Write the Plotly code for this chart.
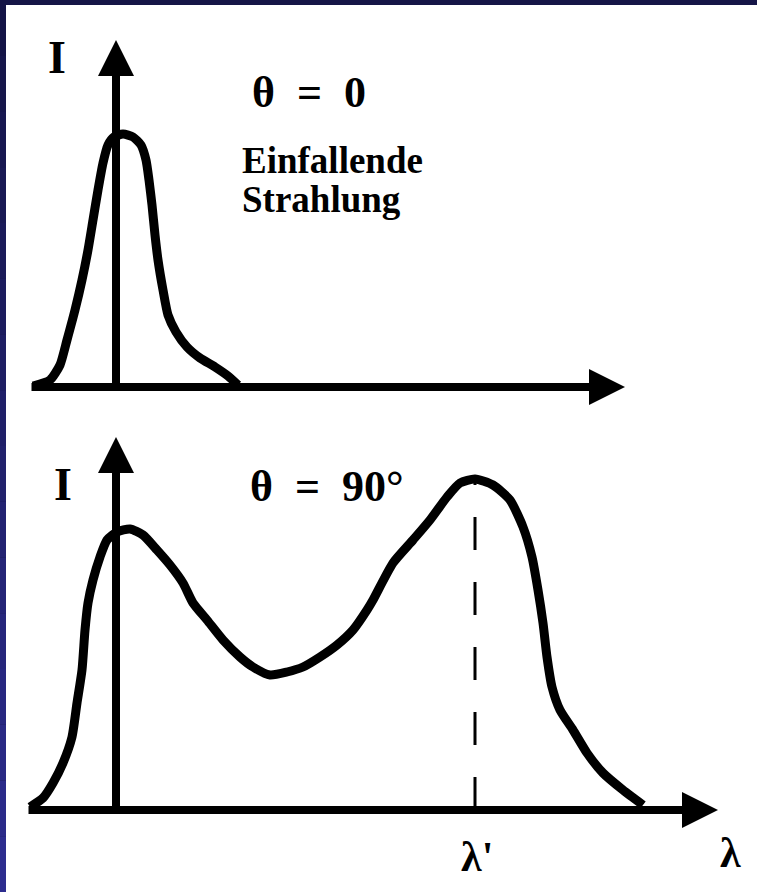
import plotly.graph_objects as go

# ---- data (arbitrary units: lambda along x, intensity I along y) ----
top_lam = [-1.66, -1.32, -1.12, -0.98, -0.82, -0.68, -0.56, -0.46, -0.36, -0.26, -0.16, -0.04,
           0.14, 0.34, 0.50, 0.60, 0.66, 0.72, 0.78, 0.84, 0.94, 1.04, 1.20, 1.42, 1.68, 1.98, 2.24, 2.44]
top_I = [0.04, 0.28, 0.88, 1.88, 3.08, 4.28, 5.48, 6.68, 7.88, 8.96, 9.68, 10.0,
         10.12, 10.0, 9.68, 9.08, 8.28, 7.28, 6.08, 5.08, 3.88, 2.88, 2.2, 1.6, 1.16, 0.8, 0.44, 0.08]

bot_lam = [-1.72, -1.46, -1.26, -1.06, -0.88, -0.78, -0.68, -0.62, -0.56, -0.46, -0.32, -0.18, 0.02,
           0.28, 0.54, 0.82, 1.08, 1.34, 1.54, 1.82, 2.14, 2.48, 2.74, 3.08, 3.42, 3.74, 4.08, 4.42,
           4.74, 5.02, 5.14, 5.54, 5.94, 6.28, 6.62, 6.88, 7.18, 7.54, 7.88, 8.14, 8.32, 8.44, 8.54,
           8.62, 8.72, 8.88, 9.14, 9.42, 9.74, 10.14, 10.54]
bot_I = [0.12, 0.48, 1.08, 1.88, 2.92, 4.28, 5.6, 7.2, 8.28, 9.2, 10.12, 10.8, 11.12,
         11.24, 11.0, 10.4, 9.8, 9.08, 8.28, 7.6, 6.8, 6.12, 5.72, 5.4, 5.52, 5.72, 6.12, 6.6,
         7.2, 8.0, 8.4, 9.88, 10.8, 11.6, 12.52, 13.08, 13.24, 13.0, 12.4, 11.32, 10.12, 8.8, 7.48,
         6.12, 4.92, 4.0, 3.2, 2.28, 1.48, 0.8, 0.2]

lam_prime = 7.18
lam_prime_peak = 13.24

top_axis_x = [-1.72, 10.18]   # lambda axis extent (top)
top_axis_y = 13.88            # I axis tip (top)
bot_axis_x = [-1.78, 12.04]
bot_axis_y = 14.92

labels_top = {"I": (-1.18, 13.2), "theta": (3.86, 11.8), "lam": (10.68, -1.64)}
labels_bot = {"I": (-1.06, 13.04), "theta": (4.22, 12.96), "lam": (12.28, -1.72), "lamp": (7.22, -1.88)}

W, H = 757, 892
split = 1 - 420 / H

fig = go.Figure()
line_style = dict(color="black", width=9, shape="spline", smoothing=0.6)
fig.add_trace(go.Scatter(x=top_lam, y=top_I, mode="lines", line=line_style, xaxis="x", yaxis="y",
                         hoverinfo="skip", showlegend=False))
fig.add_trace(go.Scatter(x=bot_lam, y=bot_I, mode="lines", line=line_style, xaxis="x2", yaxis="y2",
                         hoverinfo="skip", showlegend=False))
fig.add_trace(go.Scatter(x=[lam_prime, lam_prime], y=[0, lam_prime_peak], mode="lines",
                         line=dict(color="black", width=3, dash="33px,32px"),
                         xaxis="x2", yaxis="y2", hoverinfo="skip", showlegend=False))

def arrow(x, y, ax, ay, xr, yr):
    fig.add_annotation(x=x, y=y, ax=ax, ay=ay, xref=xr, yref=yr, axref=xr, ayref=yr,
                       text="", showarrow=True, arrowhead=2, arrowsize=0.9, arrowwidth=8,
                       arrowcolor="black")

arrow(0, top_axis_y, 0, -0.16, "x", "y")
arrow(top_axis_x[1], 0, top_axis_x[0], 0, "x", "y")
arrow(0, bot_axis_y, 0, -0.16, "x2", "y2")
arrow(bot_axis_x[1], 0, bot_axis_x[0], 0, "x2", "y2")

serif = "Liberation Serif"
def label(text, pos, xr, yr, size, weight="bold", xanchor="center"):
    fig.add_annotation(x=pos[0], y=pos[1], xref=xr, yref=yr, text=text, showarrow=False,
                       xanchor=xanchor, yanchor="middle",
                       font=dict(family=serif, size=size, color="black", weight=weight))

nb = "\u00a0"
label("I", labels_top["I"], "x", "y", 46)
label("θ" + nb * 2 + "=" + nb * 2 + "0", labels_top["theta"], "x", "y", 44)
label("λ", labels_top["lam"], "x", "y", 42)
label("Einfallende", (2.48, 9.08), "x", "y", 37, xanchor="left")
label("Strahlung", (2.48, 7.52), "x", "y", 37, xanchor="left")
label("I", labels_bot["I"], "x2", "y2", 46)
label("θ" + nb * 2 + "=" + nb * 2 + "90°", labels_bot["theta"], "x2", "y2", 44)
label("λ", labels_bot["lam"], "x2", "y2", 42)
label("λ'", labels_bot["lamp"], "x2", "y2", 42)

# frame: white sheet with navy edges
shapes = [dict(type="rect", xref="paper", yref="paper", x0=6 / W, x1=1, y0=0, y1=1 - 5 / H,
               fillcolor="white", line=dict(width=0), layer="below")]
nb_bands = 16
c0, c1 = (20, 20, 70), (44, 44, 142)
for i in range(nb_bands):
    t = i / (nb_bands - 1)
    col = tuple(round(c0[k] + (c1[k] - c0[k]) * t) for k in range(3))
    shapes.append(dict(type="rect", xref="paper", yref="paper", x0=0, x1=6 / W,
                       y1=1 - i / nb_bands, y0=1 - (i + 1) / nb_bands,
                       fillcolor="rgb(%d,%d,%d)" % col, line=dict(width=0), layer="below"))

xr = [(0 - 116) / 50, (W - 116) / 50]
hidden = dict(visible=False, showgrid=False, zeroline=False, fixedrange=True)
fig.update_layout(
    width=W, height=H, autosize=False,
    margin=dict(l=0, r=0, t=0, b=0, pad=0),
    paper_bgcolor="rgb(21,21,71)", plot_bgcolor="rgba(0,0,0,0)",
    shapes=shapes, showlegend=False,
    xaxis=dict(domain=[0, 1], range=xr, anchor="y", **hidden),
    yaxis=dict(domain=[split, 1], range=[(387 - 420) / 25, 387 / 25], anchor="x", **hidden),
    xaxis2=dict(domain=[0, 1], range=xr, anchor="y2", **hidden),
    yaxis2=dict(domain=[0, split], range=[(810 - H) / 25, (810 - 420) / 25], anchor="x2", **hidden),
)
fig.write_html(
    "out.html",
    config={"displayModeBar": False, "staticPlot": True},
    post_script="document.body.style.margin='0';document.body.style.padding='0';"
                "document.documentElement.style.overflow='hidden';",
)
